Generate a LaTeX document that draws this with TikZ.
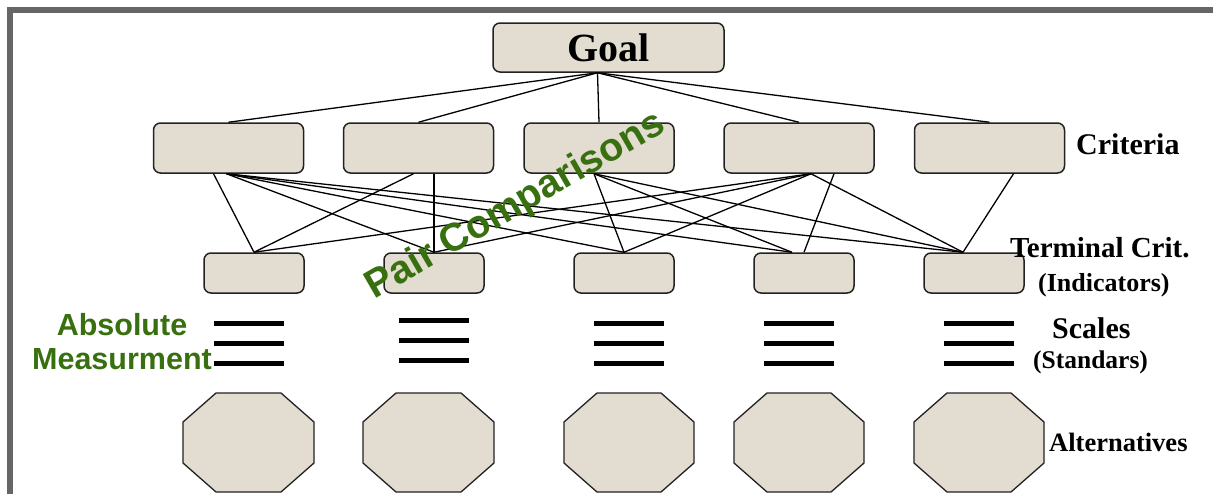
\documentclass[tikz,border=0pt]{standalone}
\usepackage{fontspec}
\setmainfont{Liberation Serif}
\newfontfamily\arialfont{Liberation Sans}
\usetikzlibrary{calc}
\definecolor{boxfill}{RGB}{227,220,208}
\definecolor{boxdraw}{RGB}{34,34,34}
\definecolor{framegray}{RGB}{102,102,102}
\definecolor{txtgreen}{RGB}{56,112,16}
\begin{document}
\begin{tikzpicture}[x=1pt,y=-1pt,
  critbox/.style={draw=boxdraw, line width=1.5pt, fill=boxfill, rounded corners=7pt,
    minimum width=150pt, minimum height=50pt, inner sep=0pt},
  termbox/.style={critbox, minimum width=100pt, minimum height=40pt},
  goalbox/.style={critbox, minimum width=231pt, minimum height=49pt,
    font=\bfseries\fontsize{40}{44}\selectfont},
  link/.style={draw=black, line width=1.3pt},
  scaleline/.style={line width=5pt, black},
  octo/.style={draw=boxdraw, line width=1.3pt, fill=boxfill},
  lab/.style={anchor=base west, inner sep=0pt},
  greentext/.style={text=txtgreen, inner sep=0pt}
]
\useasboundingbox (0,0) rectangle (1213,493);
\clip (0,0) rectangle (1213,493);
\fill[white] (0,0) rectangle (1213,493);
% frame
\draw[framegray, line width=6pt] (10,520) -- (10,10) -- (1240,10);

% nodes
\node[goalbox] (goal) at (608.5,47.5) {Goal};
\node[critbox] (C1) at (228.5,148) {};
\node[critbox] (C2) at (418.5,148) {};
\node[critbox] (C3) at (599,148) {};
\node[critbox] (C4) at (799,148) {};
\node[critbox] (C5) at (989.5,148) {};
\node[termbox] (T1) at (254,273) {};
\node[termbox] (T2) at (434,273) {};
\node[termbox] (T3) at (624,273) {};
\node[termbox] (T4) at (804,273) {};
\node[termbox] (T5) at (974,273) {};

% anchor points
\coordinate (gA) at ($(goal.south)+(-11,0)$);
\coordinate (c1a) at ($(C1.south)+(-2,0)$);
\coordinate (c1b) at ($(C1.south)+(-15,0)$);
\coordinate (c2a) at ($(C2.south)+(-5,0)$);
\coordinate (c2b) at (T2.north |- C2.south);
\coordinate (c3a) at ($(C3.south)+(-5,0)$);
\coordinate (c4a) at ($(C4.south)+(12,0)$);
\coordinate (c4b) at ($(C4.south)+(35,0)$);
\coordinate (c5a) at ($(C5.south)+(24,0)$);
\coordinate (t4a) at ($(T4.north)+(-12,0)$);
\coordinate (t5a) at ($(T5.north)+(-11,0)$);

% connectors
\foreach \c in {C1,C2,C3,C4,C5} \draw[link] (gA) -- (\c.north);
\draw[link] (c1b) -- (T1.north);
\foreach \t in {T2.north,T3.north,t4a,t5a} \draw[link] (c1a) -- (\t);
\draw[link] (c2a) -- (T1.north);
\draw[link] (c2b) -- (T2.north);
\foreach \t in {T3.north,t4a,t5a} \draw[link] (c3a) -- (\t);
\foreach \t in {T1.north,T2.north,T3.north,t5a} \draw[link] (c4a) -- (\t);
\draw[link] (c4b) -- (T4.north);
\draw[link] (c5a) -- (t5a);

% scales
\foreach \xa/\ya in {214/323, 399/320, 594/323, 764/323, 944/323}{
  \foreach \dy in {0,20,40}
    \draw[scaleline] (\xa,\ya+\dy) -- (\xa+70,\ya+\dy);
}

% alternatives (octagons)
\foreach \L/\R in {183/314, 363/494, 564/694, 734/864, 914/1044}{
  \draw[octo] (\L+33,393) -- (\R-33,393) -- (\R,422) -- (\R,463) -- (\R-33,492)
    -- (\L+33,492) -- (\L,463) -- (\L,422) -- cycle;
}

% labels
\node[lab, font=\bfseries\fontsize{30}{34}\selectfont] (lcrit) at (1076,154) {Criteria};
\node[lab, font=\bfseries\fontsize{29}{34}\selectfont] (lterm) at (1010,257) {Terminal Crit.};
\node[lab, font=\bfseries\fontsize{26}{30}\selectfont] (lind) at (1038,291) {(Indicators)};
\node[lab, font=\bfseries\fontsize{30}{34}\selectfont] (lscal) at (1052,338) {Scales};
\node[lab, font=\bfseries\fontsize{25.5}{30}\selectfont] (lstd) at (1033,368) {(Standars)};
\node[lab, font=\bfseries\fontsize{26.5}{30}\selectfont] (lalt) at (1049,451) {Alternatives};

\node[greentext, align=center, font=\arialfont\bfseries\fontsize{30.5}{34}\selectfont] (abs) at (122,342) {Absolute\\Measurment};
\node[greentext, rotate=30, font=\arialfont\bfseries\fontsize{39.5}{42}\selectfont] (pair) at (516,206) {Pair Comparisons};
\end{tikzpicture}
\end{document}
